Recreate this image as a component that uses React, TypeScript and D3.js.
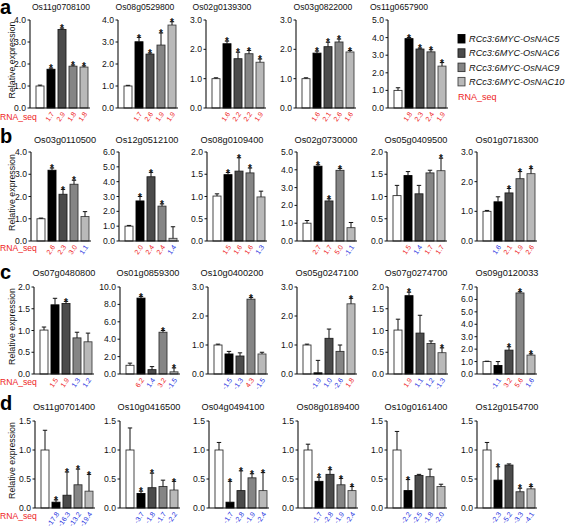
import React from "react";
import * as d3 from "d3";

// ---------- data ----------
const legendLabels = ["RCc3:6MYC-OsNAC5", "RCc3:6MYC-OsNAC6", "RCc3:6MYC-OsNAC9", "RCc3:6MYC-OsNAC10"];
const rowLetters = ["a", "b", "c", "d"];

const genes = [
  ["Os11g0708100", "Os08g0529800", "Os02g0139300", "Os03g0822000", "Os11g0657900"],
  ["Os03g0110500", "Os12g0512100", "Os08g0109400", "Os02g0730000", "Os05g0409500", "Os01g0718300"],
  ["Os07g0480800", "Os01g0859300", "Os10g0400200", "Os05g0247100", "Os07g0274700", "Os09g0120033"],
  ["Os11g0701400", "Os10g0416500", "Os04g0494100", "Os08g0189400", "Os10g0161400", "Os12g0154700"],
];

const yMax = [
  [4, 4, 3, 3, 5],
  [4, 6, 2, 5, 2, 3],
  [2, 10, 3, 3, 2, 7],
  [1.5, 1.5, 1.5, 1.5, 1.5, 1.5],
];
const yStep = [
  [1, 1, 1, 1, 1],
  [1, 1, 0.5, 1, 0.5, 1],
  [0.5, 2, 1, 1, 0.5, 1],
  [0.5, 0.5, 0.5, 0.5, 0.5, 0.5],
];

const expression = [
  [
    [1.0, 1.76, 3.57, 1.9, 1.86],
    [1.0, 3.01, 2.45, 2.86, 3.77],
    [1.0, 2.19, 1.68, 1.85, 1.56],
    [1.0, 1.87, 2.09, 2.25, 1.91],
    [1.0, 3.94, 3.35, 3.19, 2.38],
  ],
  [
    [1.0, 3.18, 2.1, 2.55, 1.1],
    [1.0, 2.7, 4.33, 2.35, 0.18],
    [1.01, 1.49, 1.57, 1.53, 0.99],
    [1.0, 4.2, 2.25, 3.97, 0.75],
    [1.02, 1.47, 1.06, 1.53, 1.58],
    [1.0, 1.32, 1.62, 2.1, 2.27],
  ],
  [
    [1.01, 1.59, 1.62, 0.83, 0.74],
    [1.0, 8.72, 0.5, 4.8, 0.25],
    [1.0, 0.69, 0.62, 2.58, 0.69],
    [1.0, 0.04, 1.23, 0.78, 2.42],
    [1.01, 1.8, 0.94, 0.7, 0.49],
    [1.0, 0.68, 1.92, 6.52, 1.52],
  ],
  [
    [1.0, 0.1, 0.22, 0.4, 0.29],
    [1.0, 0.25, 0.35, 0.37, 0.31],
    [1.0, 0.1, 0.3, 0.52, 0.3],
    [1.0, 0.46, 0.58, 0.4, 0.3],
    [1.0, 0.3, 0.56, 0.54, 0.37],
    [1.0, 0.48, 0.74, 0.28, 0.33],
  ],
];

const errors = [
  [
    [0.04, 0.05, 0.06, 0.05, 0.05],
    [0.03, 0.2, 0.05, 0.55, 0.15],
    [0.03, 0.09, 0.22, 0.11, 0.11],
    [0.03, 0.07, 0.15, 0.1, 0.05],
    [0.15, 0.07, 0.05, 0.12, 0.2],
  ],
  [
    [0.03, 0.1, 0.22, 0.18, 0.22],
    [0.05, 0.3, 0.3, 0.15, 0.78],
    [0.05, 0.05, 0.3, 0.11, 0.13],
    [0.15, 0.08, 0.12, 0.11, 0.29],
    [0.23, 0.09, 0.19, 0.06, 0.28],
    [0.03, 0.17, 0.15, 0.24, 0.17],
  ],
  [
    [0.07, 0.15, 0.05, 0.13, 0.2],
    [0.25, 0.2, 0.35, 0.2, 0.45],
    [0.03, 0.09, 0.11, 0.06, 0.06],
    [0.03, 0.43, 0.32, 0.22, 0.19],
    [0.25, 0.08, 0.41, 0.06, 0.11],
    [0.03, 0.32, 0.27, 0.1, 0.1],
  ],
  [
    [0.34, 0.04, 0.4, 0.27, 0.29],
    [0.38, 0.04, 0.25, 0.11, 0.15],
    [0.13, 0.36, 0.34, 0.07, 0.31],
    [0.1, 0.07, 0.08, 0.11, 0.07],
    [0.32, 0.19, 0.02, 0.13, 0.04],
    [0.13, 0.23, 0.02, 0.06, 0.04],
  ],
];

// significance star for NAC5, NAC6, NAC9, NAC10 bars
const significant = [
  [[1, 1, 1, 1], [1, 1, 1, 1], [1, 1, 1, 1], [1, 1, 1, 1], [1, 1, 1, 1]],
  [[1, 1, 1, 0], [1, 1, 1, 0], [1, 1, 1, 0], [1, 1, 1, 0], [0, 0, 0, 1], [0, 1, 1, 1]],
  [[0, 1, 0, 0], [1, 0, 1, 1], [0, 0, 1, 0], [0, 0, 0, 1], [1, 0, 0, 1], [0, 1, 1, 1]],
  [[1, 1, 1, 1], [1, 1, 0, 1], [1, 1, 1, 1], [1, 1, 1, 1], [1, 0, 0, 0], [1, 0, 1, 1]],
];

const rnaSeq = [
  [["1.7", "2.9", "1.8", "1.8"], ["1.7", "2.6", "1.9", "1.9"], ["1.6", "2.2", "2.2", "1.9"], ["1.6", "2.1", "2.6", "1.6"], ["1.8", "2.3", "2.4", "1.9"]],
  [["2.6", "2.3", "3.0", "1.1"], ["2.0", "2.4", "2.4", "1.4"], ["1.5", "1.6", "1.6", "1.3"], ["2.7", "1.7", "5.0", "-1.1"], ["1.5", "1.4", "1.7", "1.7"], ["1.6", "2.1", "1.9", "2.6"]],
  [["1.5", "1.9", "1.3", "1.2"], ["6.2", "1.4", "3.2", "-1.5"], ["-1.5", "-1.3", "4.3", "-1.5"], ["-1.9", "1.0", "-2.6", "1.8"], ["1.9", "1.1", "1.2", "-1.3"], ["-1.1", "3.2", "5.6", "1.6"]],
  [["-17.8", "-16.3", "-13.2", "-19.4"], ["-3.7", "-1.8", "-1.7", "-2.2"], ["-1.7", "-2.8", "-1.9", "-2.4"], ["-1.7", "-2.8", "-1.9", "-2.4"], ["-2.2", "-2.5", "-1.8", "-2.0"], ["-2.3", "-5.2", "-3.3", "-4.1"]],
];
// 1 = red (significant up), 0 = blue
const rnaSeqUp = [
  [[1, 1, 1, 1], [1, 1, 1, 1], [1, 1, 1, 1], [1, 1, 1, 1], [1, 1, 1, 1]],
  [[1, 1, 1, 0], [1, 1, 1, 0], [1, 1, 1, 0], [1, 1, 1, 0], [1, 0, 1, 1], [0, 1, 1, 1]],
  [[1, 1, 0, 0], [1, 0, 1, 0], [0, 0, 1, 0], [0, 0, 0, 1], [1, 0, 0, 0], [0, 1, 1, 0]],
  [[0, 0, 0, 0], [0, 0, 0, 0], [0, 0, 0, 0], [0, 0, 0, 0], [0, 0, 0, 0], [0, 0, 0, 0]],
];

// ---------- layout / style ----------
const W = 567;
const H = 528;
const FONT = "'Liberation Sans', Arial, Helvetica, sans-serif";
const RED = "#ee1c24";
const BLUE = "#2432e0";
const fills = ["#ffffff", "#000000", "#4b4b4b", "#858585", "#b9b9b9"];
const strokes = ["#333333", "#000000", "#1e1e1e", "#333333", "#444444"];

const rowTop = [20, 152, 287, 421];
const rowBottom = [108, 241, 374, 508];
const titleY = [10, 143, 276, 410];
const letterY = [14, 143, 279, 410];
const rnaLabelY = [120, 251, 385, 519];
const titleSize = [8.6, 9.2, 9.2, 9.2];
const bar0X = [
  [36, 124, 212, 302, 394],
  [37, 125, 213, 303, 393, 483],
  [40, 126, 214, 303, 394, 483],
  [41, 126, 215, 304, 393, 483],
];
const titleCX = [
  [61, 145, 222, 323, 399],
  [65, 147, 232, 326, 416, 507],
  [64, 148, 232, 327, 416, 507],
  [64, 149, 233, 328, 416, 507],
];

const fmt = d3.format(".1f");

function Panel({ r, p }: { r: number; p: number }) {
  const vals = expression[r][p];
  const errs = errors[r][p];
  const x0 = bar0X[r][p];
  const x = d3
    .scaleBand<number>()
    .domain(d3.range(vals.length))
    .range([x0, x0 + 52])
    .paddingInner(3 / 11)
    .paddingOuter(0);
  const y = d3.scaleLinear().domain([0, yMax[r][p]]).range([rowBottom[r], rowTop[r]]);
  const axisX = x0 - 6;
  const ticks = d3.range(0, yMax[r][p] + yStep[r][p] / 2, yStep[r][p]);
  const bw = x.bandwidth();
  return (
    <g>
      <text x={titleCX[r][p]} y={titleY[r]} fontSize={titleSize[r]} textAnchor="middle" fill="#111">
        {genes[r][p]}
      </text>
      {vals.map((v, i) => {
        const cx = (x(i) as number) + bw / 2;
        const errTop = y(v + errs[i]);
        return (
          <g key={i}>
            <rect
              x={x(i)}
              y={y(v)}
              width={bw}
              height={y(0) - y(v)}
              fill={fills[i]}
              stroke={strokes[i]}
              strokeWidth={0.9}
            />
            <line x1={cx} x2={cx} y1={y(v)} y2={errTop} stroke="#111" strokeWidth={1} />
            <line x1={cx - 2.2} x2={cx + 2.2} y1={errTop} y2={errTop} stroke="#111" strokeWidth={1} />
            {i > 0 && significant[r][p][i - 1] === 1 && (
              <text x={cx} y={errTop + 4.2} fontSize={10} fontWeight="bold" textAnchor="middle" fill="#111">
                *
              </text>
            )}
            {i > 0 && (
              <text
                transform={`translate(${cx + 3.5},${rowBottom[r] + 6}) rotate(-55)`}
                fontSize={7}
                textAnchor="end"
                fill={rnaSeqUp[r][p][i - 1] === 1 ? RED : BLUE}
              >
                {rnaSeq[r][p][i - 1]}
              </text>
            )}
          </g>
        );
      })}
      <line x1={axisX} x2={axisX} y1={y(yMax[r][p])} y2={y(0)} stroke="#111" strokeWidth={1.1} />
      <line x1={axisX} x2={x0 + 54} y1={y(0)} y2={y(0)} stroke="#111" strokeWidth={1.1} />
      {ticks.map((t) => (
        <g key={t}>
          <line x1={axisX - 2.5} x2={axisX} y1={y(t)} y2={y(t)} stroke="#111" strokeWidth={1} />
          <text x={axisX - 4} y={y(t)} dy="0.35em" fontSize={8.6} textAnchor="end" fill="#111">
            {fmt(t)}
          </text>
        </g>
      ))}
    </g>
  );
}

export default function App() {
  return (
    <svg
      width={W}
      height={H}
      viewBox={`0 0 ${W} ${H}`}
      style={{ position: "absolute", left: 0, top: 0, background: "#fff" }}
      fontFamily={FONT}
    >
      <rect x={0} y={0} width={W} height={H} fill="#fff" />
      {rowLetters.map((l, r) => (
        <g key={l}>
          <text x={0} y={letterY[r]} fontSize={20} fontWeight="bold" fill="#000">
            {l}
          </text>
          <text
            transform={`translate(15,${(rowTop[r] + rowBottom[r]) / 2 - 4}) rotate(-90)`}
            fontSize={8.8}
            textAnchor="middle"
            fill="#111"
          >
            Relative expression
          </text>
          <text x={0} y={rnaLabelY[r]} fontSize={8.6} fill={RED}>
            RNA_seq
          </text>
          {genes[r].map((_, p) => (
            <Panel key={p} r={r} p={p} />
          ))}
        </g>
      ))}
      <g>
        {legendLabels.map((lab, i) => (
          <g key={lab}>
            <rect
              x={458}
              y={34.5 + i * 14.3}
              width={7}
              height={8.5}
              fill={fills[i + 1]}
              stroke={strokes[i + 1]}
              strokeWidth={0.9}
            />
            <text x={469} y={38.7 + i * 14.3} dy="0.35em" fontSize={9.2} fontStyle="italic" fill="#111">
              {lab}
            </text>
          </g>
        ))}
        <text x={458} y={96.7} dy="0.35em" fontSize={9} fill={RED}>
          RNA_seq
        </text>
      </g>
    </svg>
  );
}
